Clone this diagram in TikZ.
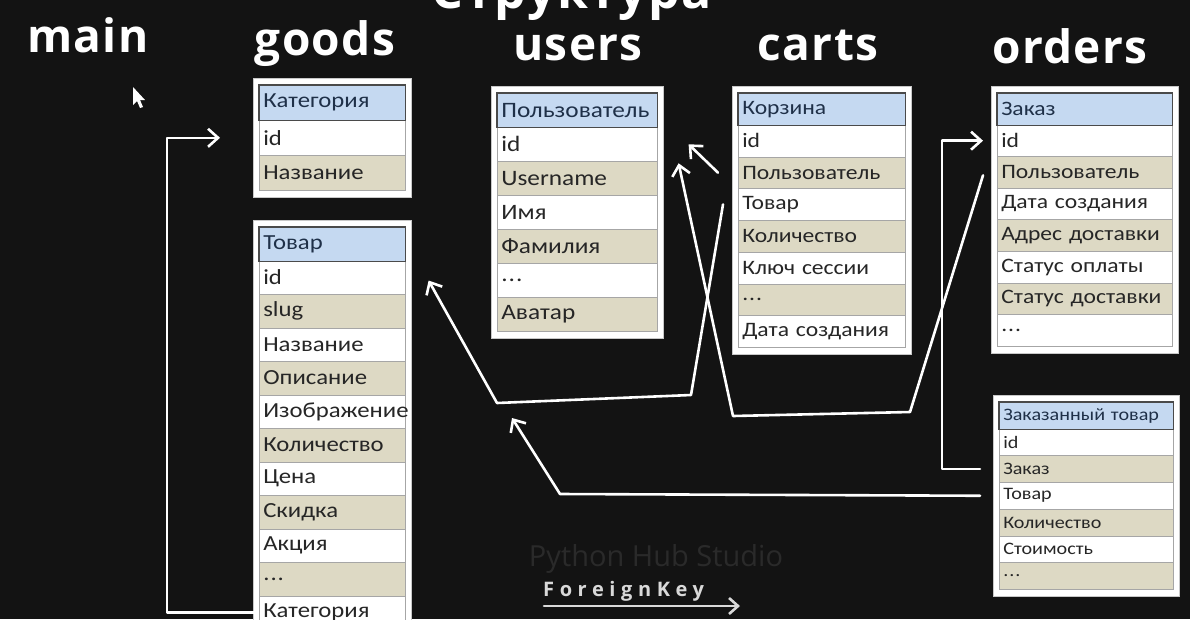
\documentclass[tikz,border=0pt]{standalone}
\usepackage{fontspec}
\setmainfont{Carlito}
\newfontfamily\rowfont[FakeStretch=1.15]{Carlito}
\newfontfamily\headfont[LetterSpace=3]{Open Sans}
\newfontfamily\fkfont[LetterSpace=28]{Open Sans}
\newfontfamily\wmfont{Open Sans}
\usetikzlibrary{arrows.meta}
\definecolor{bg}{HTML}{131313}
\definecolor{hdrblue}{HTML}{C5D9F1}
\definecolor{hdrline}{HTML}{4A4A4A}
\definecolor{hdrtext}{HTML}{1F3048}
\definecolor{beige}{HTML}{DDD9C4}
\definecolor{gridc}{HTML}{A6A6A6}
\definecolor{rowtext}{HTML}{262626}
\definecolor{framec}{HTML}{C8C8C8}
\definecolor{wmc}{HTML}{2A2A2A}
\definecolor{fkc}{HTML}{D9D9D9}
\newcommand\dotsrow{.\kern1pt.\kern1pt.}
\tikzset{
  framebox/.style={draw=framec, fill=white, line width=1pt, anchor=north west, inner sep=0pt},
  rowbase/.style={anchor=north west, inner xsep=4pt, inner ysep=0pt, align=left, text=rowtext, line width=0.6pt, draw=gridc},
  hdrrow/.style={rowbase, fill=hdrblue, text=hdrtext},
  rowA/.style={rowbase, fill=white},
  rowB/.style={rowbase, fill=beige},
  head/.style={text=white, font=\headfont\bfseries\fontsize{46}{46}\selectfont, anchor=base, inner sep=0pt},
  conn/.style={draw=white, line width=2.6pt, line cap=round, line join=round,
    -{Straight Barb[length=10pt, width=18pt]}},
  fkarrow/.style={draw=fkc, line width=2.6pt, line cap=round,
    -{Straight Barb[length=9pt, width=16pt]}}
}
\newcommand\dbtable[8]{%
  \pgfmathsetmacro\dbtw{#4-8}%
  \pgfmathsetmacro\dbfw{#4+12}%
  \pgfmathsetmacro\dbfh{#8*#5+14}%
  \node[framebox, minimum width=\dbfw pt, minimum height=\dbfh pt] (#1-frame) at (#2-6,#3-7) {};
  \foreach \txt [count=\i from 0] in {#7} {
    \ifnum\i=0 \def\rst{hdrrow}\else\ifodd\i \def\rst{rowA}\else\def\rst{rowB}\fi\fi
    \node[\rst, minimum width=#4pt, minimum height=#5pt, text width=\dbtw pt,
      font=\rowfont\fontsize{#6}{#6}\selectfont] (#1-\i) at (#2,{#3+\i*#5}) {\txt};
  }
  \draw[hdrline, line width=1.2pt] (#1-0.north west) rectangle (#1-0.south east);
}
\begin{document}
\begin{tikzpicture}[x=1pt,y=-1pt]
\useasboundingbox (0,0) rectangle (1190,619);
\clip (0,0) rectangle (1190,619);
\fill[bg] (0,0) rectangle (1190,619);

% headings
\node[head, font=\headfont\bfseries\fontsize{50}{50}\selectfont] (title) at (572,8) {Структура};
\node[head] (h-main) at (88,52) {main};
\node[head] (h-goods) at (325,55) {goods};
\node[head] (h-users) at (578,60) {users};
\node[head] (h-carts) at (818,60) {carts};
\node[head] (h-orders) at (1070,63) {orders};

% cursor
\fill[white] (133,87) -- (133,105) -- (137,101) -- (140,108) -- (143,107) -- (140,100) -- (145,100) -- cycle;

% tables
\dbtable{kat}{259}{85}{146}{35}{21.5}{Категория,id,Название}{3}
\dbtable{tov}{259}{227}{146}{33.5}{21.5}{Товар,id,slug,Название,Описание,Изображение,Количество,Цена,Скидка,Акция,\dotsrow,Категория}{12}
\dbtable{usr}{497}{93}{160}{34}{22}{Пользователь,id,Username,Имя,Фамилия,\dotsrow,Аватар}{7}
\dbtable{crt}{738}{93}{167}{31.75}{20.5}{Корзина,id,Пользователь,Товар,Количество,Ключ сессии,\dotsrow,Дата создания}{8}
\dbtable{ord}{997}{93}{175}{31.6}{20.5}{Заказ,id,Пользователь,Дата создания,Адрес доставки,Статус оплаты,Статус доставки,\dotsrow}{8}
\dbtable{oi}{999}{402}{174}{26.7}{17.5}{Заказанный товар,id,Заказ,Товар,Количество,Стоимость,\dotsrow}{7}

% watermark and legend
\node[text=wmc, font=\wmfont\fontsize{29}{29}\selectfont, inner sep=0pt] (wm) at (656,559) {Python Hub Studio};
\node[text=fkc, font=\fkfont\bfseries\fontsize{20}{20}\selectfont, anchor=base west, inner sep=0pt] (fk) at (543,596) {ForeignKey};
\coordinate (fk-a) at (544,606);
\coordinate (fk-b) at (740,606);
\draw[fkarrow] (fk-a) -- (fk-b);

% connectors
\coordinate (tov-in) at (512,418);
\draw[conn] ([xshift=-4pt]tov-11.west) -- ++(-88,0) |- ([xshift=-39pt]kat-1.west);
\draw[conn] ([xshift=-20pt]crt-2.west) -- ([xshift=31pt]usr-1.east);
\draw[conn] ([xshift=-15pt]crt-3.west) -- (691,395) -- (497,403) -- ([xshift=23pt,yshift=-3pt]tov-1.east);
\draw[conn] ([xshift=-14pt,yshift=-3pt]ord-2.west) -- (910,412) -- (733,416) -- ([xshift=21pt,yshift=-19pt]usr-1.east);
\draw[conn] ([xshift=-19pt]oi-2.west) -- ++(-38,0) |- ([xshift=-14pt]ord-1.west);
\draw[conn] ([xshift=-19pt]oi-3.west) -- (560,494) -- (tov-in);
\end{tikzpicture}
\end{document}
